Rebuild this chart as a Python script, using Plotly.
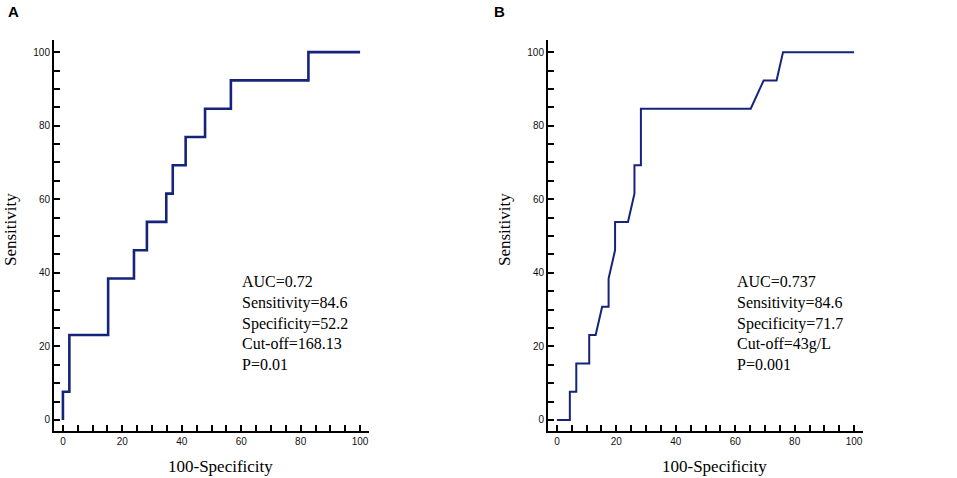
import plotly.graph_objects as go

# ROC curve A (100-Specificity vs Sensitivity)
fpr_a = [0, 0, 2.17, 2.17, 15.22, 15.22, 23.91, 23.91, 28.26, 28.26, 34.78, 34.78,
         36.96, 36.96, 41.30, 41.30, 47.83, 47.83, 56.52, 56.52, 82.61, 82.61, 100]
sens_a = [0, 7.69, 7.69, 23.08, 23.08, 38.46, 38.46, 46.15, 46.15, 53.85, 53.85, 61.54,
          61.54, 69.23, 69.23, 76.92, 76.92, 84.62, 84.62, 92.31, 92.31, 100, 100]

# ROC curve B
fpr_b = [0, 4.35, 4.35, 6.52, 6.52, 10.87, 10.87, 13.04, 15.22, 17.39, 17.39, 19.57,
         19.57, 23.91, 26.09, 26.09, 28.26, 28.26, 65.22, 69.57, 73.91, 76.09, 100]
sens_b = [0, 0, 7.69, 7.69, 15.38, 15.38, 23.08, 23.08, 30.77, 30.77, 38.46, 46.15,
          53.85, 53.85, 61.54, 69.23, 69.23, 84.62, 84.62, 92.31, 92.31, 100, 100]

stats_a = ["AUC=0.72", "Sensitivity=84.6", "Specificity=52.2", "Cut-off=168.13", "P=0.01"]
stats_b = ["AUC=0.737", "Sensitivity=84.6", "Specificity=71.7", "Cut-off=43g/L", "P=0.001"]

panel_labels = ["A", "B"]
x_title = "100-Specificity"
y_title = "Sensitivity"

W, H = 957, 478
NAVY = "#16237a"
SERIF = "Liberation Serif, Times New Roman, serif"


def px(x):
    return x / W


def py(y):
    return 1 - y / H


fig = go.Figure()
fig.add_trace(go.Scatter(x=fpr_a, y=sens_a, mode="lines", xaxis="x", yaxis="y",
                         line=dict(color=NAVY, width=2.6), showlegend=False))
fig.add_trace(go.Scatter(x=fpr_b, y=sens_b, mode="lines", xaxis="x2", yaxis="y2",
                         line=dict(color=NAVY, width=2.0), showlegend=False))

ydom = [py(431), py(40)]
xdoms = [[px(54), px(369)], [px(548), px(863)]]

axis_common = dict(
    showline=True, linecolor="black", linewidth=2,
    ticks="inside", ticklen=6, tickwidth=1.5, tickcolor="black",
    tick0=0, dtick=20, showgrid=False, zeroline=False,
    tickfont=dict(family="Arial", size=10, color="#111"),
    minor=dict(ticks="inside", ticklen=6, tickwidth=1.5, tickcolor="black",
               dtick=5, tick0=0, showgrid=False),
    fixedrange=True,
)

layout = dict(
    width=W, height=H,
    margin=dict(l=0, r=0, t=0, b=0),
    paper_bgcolor="white", plot_bgcolor="white",
    showlegend=False,
)
for i, dom in enumerate(xdoms):
    sx = "" if i == 0 else str(i + 1)
    layout["xaxis" + sx] = dict(axis_common, domain=dom, range=[-3, 103],
                                anchor="y" + sx)
    layout["yaxis" + sx] = dict(axis_common, domain=ydom, range=[-3, 103.3],
                                anchor="x" + sx)
fig.update_layout(**layout)

annotations = []
text_x = [240, 735]
for i, (dom, stats) in enumerate(zip(xdoms, [stats_a, stats_b])):
    annotations.append(dict(
        text="<br>".join(stats), xref="paper", yref="paper",
        x=px(text_x[i]), y=py(323), align="left",
        xanchor="left", yanchor="middle", showarrow=False,
        font=dict(family=SERIF, size=16, color="black")))
    # axis titles
    annotations.append(dict(
        text=x_title, xref="paper", yref="paper",
        x=(dom[0] + dom[1]) / 2 + 0.009, y=py(466),
        xanchor="center", yanchor="middle", showarrow=False,
        font=dict(family=SERIF, size=17, color="black")))
    annotations.append(dict(
        text=y_title, xref="paper", yref="paper",
        x=dom[0] - 44 / W, y=py(230), textangle=-90,
        xanchor="center", yanchor="middle", showarrow=False,
        font=dict(family=SERIF, size=17, color="black")))
    # panel label
    annotations.append(dict(
        text="<b>%s</b>" % panel_labels[i], xref="paper", yref="paper",
        x=px(6 if i == 0 else 492), y=py(12),
        xanchor="left", yanchor="middle", showarrow=False,
        font=dict(family="Arial", size=15, color="black")))

fig.update_layout(annotations=annotations)

# drop the default 8px page margin so the figure fills the window
fig.write_html("out.html", config={"displayModeBar": False},
               post_script="document.body.style.margin='0';")
